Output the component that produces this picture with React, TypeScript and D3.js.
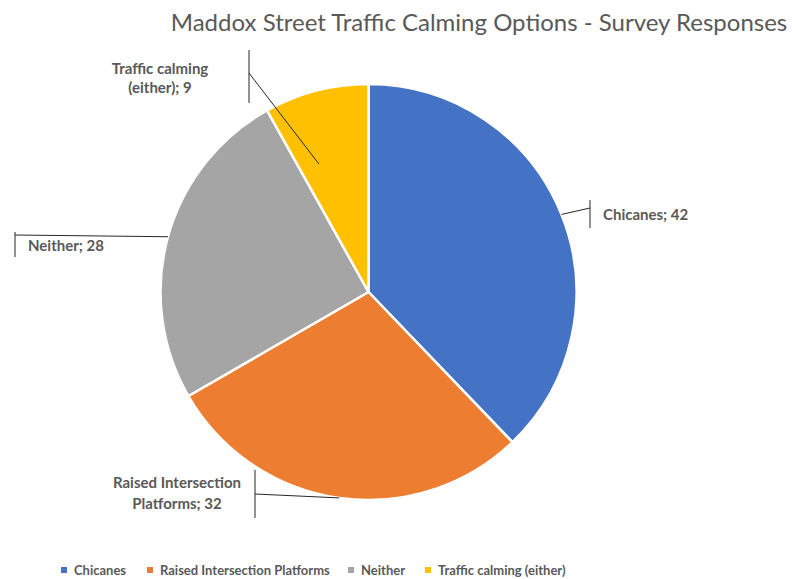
import * as d3 from 'd3';

const categories = ['Chicanes', 'Raised Intersection Platforms', 'Neither', 'Traffic calming (either)'];
const values = [42, 32, 28, 9];
const colors = ['#4472C4', '#ED7D31', '#A5A5A5', '#FFC000'];
const labelLines = [['Chicanes; 42'], ['Raised Intersection', 'Platforms; 32'], ['Neither; 28'], ['Traffic calming', '(either); 9']];

const W = 793;
const H = 579;
const cx = 368.5;
const cy = 292;
const R = 208;
const FONT = 'Lato, "Open Sans", sans-serif';
const TEXT = '#595959';

// label layout: elbow point, tick extent, text anchor
const layout = [
  { anchorR: 1.0, angleOff: 0, elbow: [590, 208], tick: [200, 228], tx: 603, ty: 220, align: 'start', lh: 20 },
  { anchorR: 1.0, angleOff: 0, elbow: [255, 494], tick: [470, 518], tx: 177, ty: 488, align: 'middle', lh: 21 },
  { anchorR: 1.0, angleOff: 0, elbow: [15, 235], tick: [232, 257], tx: 28, ty: 251, align: 'start', lh: 20 },
  { anchorR: 0.66, angleOff: -0.115, elbow: [249, 73], tick: [50, 103], tx: 160, ty: 74, align: 'middle', lh: 19 },
];

export default function App() {
  const pie = d3.pie<number>().sort(null).value((d) => d)(values);
  const arc = d3.arc<d3.PieArcDatum<number>>().innerRadius(0).outerRadius(R);

  const legendX = [64, 150, 351, 428];

  return (
    <svg width={W} height={H} style={{ position: 'absolute', left: 0, top: 0, background: '#fff' }}>
      <text x={479} y={31} textAnchor="middle" fontFamily={FONT} fontSize={24} fill={TEXT}>
        Maddox Street Traffic Calming Options - Survey  Responses
      </text>
      <g transform={`translate(${cx},${cy})`}>
        {pie.map((p, i) => (
          <path key={i} d={arc(p) || ''} fill={colors[i]} stroke="#fff" strokeWidth={2.5} strokeLinejoin="round" />
        ))}
      </g>
      {pie.map((p, i) => {
        const L = layout[i];
        const a = (p.startAngle + p.endAngle) / 2 + L.angleOff;
        const ax = cx + Math.sin(a) * R * L.anchorR;
        const ay = cy - Math.cos(a) * R * L.anchorR;
        return (
          <g key={i}>
            <line x1={ax} y1={ay} x2={L.elbow[0]} y2={L.elbow[1]} stroke="#262626" strokeWidth={1} />
            <line x1={L.elbow[0]} y1={L.tick[0]} x2={L.elbow[0]} y2={L.tick[1]} stroke="#262626" strokeWidth={1} />
            <text textAnchor={L.align as any} fontFamily={FONT} fontSize={15} fontWeight={700} fill={TEXT}>
              {labelLines[i].map((t, j) => (
                <tspan key={j} x={L.tx} y={L.ty + j * L.lh}>{t}</tspan>
              ))}
            </text>
          </g>
        );
      })}
      {categories.map((c, i) => (
        <g key={c}>
          <rect x={legendX[i] - 3} y={567} width={6} height={6} fill={colors[i]} />
          <text x={legendX[i] + 10} y={575} fontFamily={FONT} fontSize={13} fontWeight={700} fill={TEXT}>
            {c}
          </text>
        </g>
      ))}
    </svg>
  );
}
